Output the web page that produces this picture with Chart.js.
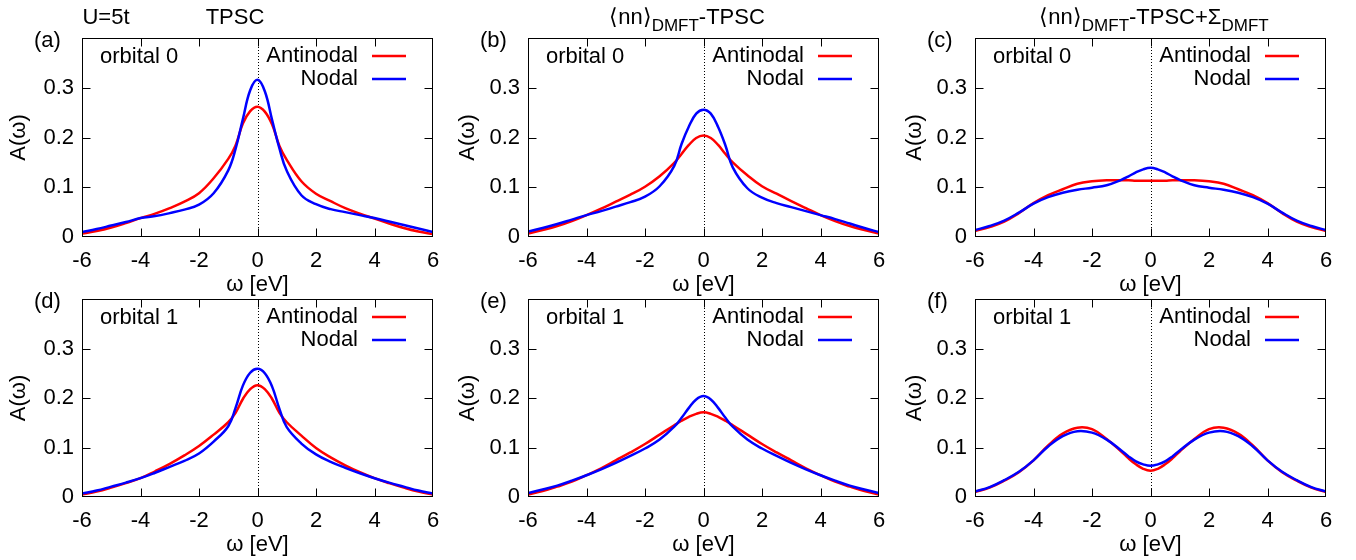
<!DOCTYPE html>
<html>
<head>
<meta charset="utf-8">
<script src="https://cdn.jsdelivr.net/npm/chart.js@4.4.1/dist/chart.umd.min.js"></script>
<style>
  html, body { margin: 0; padding: 0; background: #fff; overflow: hidden; }
  body { position: relative; width: 1356px; height: 560px; }
  canvas { position: absolute; }
</style>
</head>
<body>
<canvas id="pa"></canvas>
<canvas id="pb"></canvas>
<canvas id="pc"></canvas>
<canvas id="pd"></canvas>
<canvas id="pe"></canvas>
<canvas id="pf"></canvas>
<script>
// --- Data ---
const omega = [-6, -5.5, -5, -4.5, -4, -3.5, -3, -2.5, -2, -1.5, -1, -0.75, -0.5, -0.25, 0,
               0.25, 0.5, 0.75, 1, 1.5, 2, 2.5, 3, 3.5, 4, 4.5, 5, 5.5, 6];
const xTicks = [-6, -4, -2, 0, 2, 4, 6];
const yTicks = [0, 0.1, 0.2, 0.3];

// (a) TPSC, orbital 0
const antinodalA = [0.007, 0.012, 0.019, 0.028, 0.038, 0.047, 0.058, 0.071, 0.088, 0.118, 0.157, 0.184, 0.228, 0.253, 0.262,
                    0.252, 0.226, 0.183, 0.155, 0.112, 0.087, 0.072, 0.058, 0.047, 0.037, 0.027, 0.018, 0.011, 0.006];
const nodalA = [0.010, 0.016, 0.023, 0.030, 0.038, 0.042, 0.048, 0.055, 0.065, 0.088, 0.134, 0.177, 0.237, 0.295, 0.316,
                0.293, 0.235, 0.178, 0.133, 0.084, 0.066, 0.056, 0.050, 0.044, 0.038, 0.031, 0.024, 0.017, 0.010];
// (b) <nn>DMFT-TPSC, orbital 0
const antinodalB = [0.007, 0.014, 0.022, 0.032, 0.044, 0.057, 0.071, 0.085, 0.101, 0.122, 0.149, 0.167, 0.185, 0.199, 0.204,
                    0.199, 0.185, 0.167, 0.150, 0.124, 0.102, 0.087, 0.072, 0.058, 0.044, 0.032, 0.022, 0.014, 0.007];
const nodalB = [0.011, 0.018, 0.026, 0.035, 0.044, 0.052, 0.061, 0.070, 0.081, 0.102, 0.143, 0.187, 0.222, 0.248, 0.256,
                0.248, 0.221, 0.184, 0.140, 0.098, 0.079, 0.068, 0.060, 0.052, 0.044, 0.036, 0.027, 0.018, 0.010];
// (c) <nn>DMFT-TPSC+Sigma_DMFT, orbital 0
const antinodalC = [0.012, 0.020, 0.031, 0.048, 0.068, 0.084, 0.096, 0.107, 0.112, 0.114, 0.114, 0.114, 0.113, 0.113, 0.113,
                    0.113, 0.113, 0.114, 0.114, 0.114, 0.112, 0.107, 0.096, 0.084, 0.068, 0.048, 0.031, 0.020, 0.012];
const nodalC = [0.014, 0.022, 0.033, 0.049, 0.067, 0.080, 0.089, 0.095, 0.099, 0.104, 0.115, 0.122, 0.130, 0.136, 0.139,
                0.136, 0.130, 0.122, 0.115, 0.104, 0.099, 0.095, 0.089, 0.080, 0.067, 0.049, 0.033, 0.022, 0.014];
// (d) TPSC, orbital 1
const antinodalD = [0.005, 0.011, 0.019, 0.028, 0.038, 0.052, 0.067, 0.084, 0.103, 0.126, 0.151, 0.170, 0.198, 0.218, 0.226,
                    0.218, 0.198, 0.170, 0.151, 0.124, 0.099, 0.080, 0.064, 0.050, 0.038, 0.028, 0.019, 0.011, 0.005];
const nodalD = [0.007, 0.013, 0.021, 0.029, 0.038, 0.049, 0.061, 0.073, 0.088, 0.112, 0.143, 0.180, 0.225, 0.251, 0.259,
                0.250, 0.223, 0.178, 0.141, 0.108, 0.086, 0.071, 0.059, 0.048, 0.038, 0.029, 0.021, 0.013, 0.007];
// (e) <nn>DMFT-TPSC, orbital 1
const antinodalE = [0.005, 0.012, 0.021, 0.031, 0.044, 0.058, 0.074, 0.090, 0.107, 0.126, 0.145, 0.154, 0.162, 0.168, 0.171,
                    0.168, 0.162, 0.154, 0.145, 0.126, 0.107, 0.090, 0.074, 0.058, 0.044, 0.031, 0.021, 0.012, 0.005];
const nodalE = [0.008, 0.015, 0.023, 0.033, 0.044, 0.056, 0.069, 0.083, 0.098, 0.116, 0.142, 0.160, 0.180, 0.197, 0.204,
                0.197, 0.180, 0.160, 0.142, 0.116, 0.098, 0.083, 0.069, 0.056, 0.044, 0.033, 0.023, 0.015, 0.008];
// (f) <nn>DMFT-TPSC+Sigma_DMFT, orbital 1
const antinodalF = [0.010, 0.019, 0.033, 0.050, 0.074, 0.104, 0.128, 0.140, 0.137, 0.117, 0.092, 0.078, 0.066, 0.057, 0.053,
                    0.057, 0.066, 0.078, 0.092, 0.117, 0.137, 0.140, 0.128, 0.104, 0.074, 0.050, 0.033, 0.019, 0.010];
const nodalF = [0.011, 0.020, 0.034, 0.051, 0.074, 0.102, 0.123, 0.133, 0.130, 0.116, 0.094, 0.082, 0.072, 0.066, 0.063,
                0.066, 0.072, 0.082, 0.094, 0.116, 0.130, 0.133, 0.123, 0.102, 0.074, 0.051, 0.034, 0.020, 0.011];

const FONT = '"Liberation Sans", Arial, Helvetica, sans-serif';
const RED = '#ff0000';
const BLUE = '#0000ff';

const titleNN = [['⟨nn⟩'], ['DMFT', true], ['-TPSC']];
const titleNNS = [['⟨nn⟩'], ['DMFT', true], ['-TPSC+Σ'], ['DMFT', true]];

// layout of the six panels (pixel boxes of the plot areas)
const panels = [
  { id: 'pa', rowTop: 0,   left: 82,  right: 433,  top: 38,  yW: 80, label: '(a)', orbital: 'orbital 0', an: antinodalA, no: nodalA,
    titles: [{ cx: 24, parts: [['U=5t']] }, { cx: 153, parts: [['TPSC']] }] },
  { id: 'pb', rowTop: 0,   left: 528, right: 879,  top: 38,  yW: 77, label: '(b)', orbital: 'orbital 0', an: antinodalB, no: nodalB,
    titles: [{ cx: 159, parts: titleNN }] },
  { id: 'pc', rowTop: 0,   left: 975, right: 1326, top: 38,  yW: 77, label: '(c)', orbital: 'orbital 0', an: antinodalC, no: nodalC,
    titles: [{ cx: 179, parts: titleNNS }] },
  { id: 'pd', rowTop: 280, left: 82,  right: 433,  top: 299, yW: 80, label: '(d)', orbital: 'orbital 1', an: antinodalD, no: nodalD, titles: [] },
  { id: 'pe', rowTop: 280, left: 528, right: 879,  top: 299, yW: 77, label: '(e)', orbital: 'orbital 1', an: antinodalE, no: nodalE, titles: [] },
  { id: 'pf', rowTop: 280, left: 975, right: 1326, top: 299, yW: 77, label: '(f)', orbital: 'orbital 1', an: antinodalF, no: nodalF, titles: [] },
];

// gnuplot-like frame: box, inward mirrored ticks, dotted zero line, key and labels
const framePlugin = {
  id: 'frame',
  beforeDatasetsDraw(chart) {
    const { ctx, chartArea: a, scales: { x } } = chart;
    const x0 = Math.round(x.getPixelForValue(0)) + 0.5;
    ctx.save();
    ctx.strokeStyle = '#000';
    ctx.lineWidth = 1;
    ctx.setLineDash([1, 2]);
    ctx.beginPath();
    ctx.moveTo(x0, a.top);
    ctx.lineTo(x0, a.bottom);
    ctx.stroke();
    ctx.restore();
  },
  afterDraw(chart, args, opts) {
    const { ctx, chartArea: a, scales: { x, y } } = chart;
    const L = Math.round(a.left) + 0.5, R = Math.round(a.right) - 0.5;
    const T = Math.round(a.top) + 0.5, B = Math.round(a.bottom) - 0.5;
    ctx.save();
    ctx.strokeStyle = '#000';
    ctx.lineWidth = 1;
    ctx.strokeRect(L, T, R - L, B - T);
    // ticks
    ctx.beginPath();
    xTicks.forEach(v => {
      const px = Math.round(x.getPixelForValue(v)) + 0.5;
      if (px <= L + 1 || px >= R - 1) return;
      ctx.moveTo(px, B); ctx.lineTo(px, B - 8);
      ctx.moveTo(px, T); ctx.lineTo(px, T + 8);
    });
    yTicks.forEach(v => {
      const py = Math.round(y.getPixelForValue(v)) + 0.5;
      if (py >= B - 1 || py <= T + 1) return;
      ctx.moveTo(L, py); ctx.lineTo(L + 8, py);
      ctx.moveTo(R, py); ctx.lineTo(R - 8, py);
    });
    ctx.stroke();

    // key
    ctx.fillStyle = '#000';
    ctx.font = '22px ' + FONT;
    ctx.textBaseline = 'middle';
    ctx.textAlign = 'right';
    chart.data.datasets.forEach((ds, i) => {
      const yy = a.top + 18 + i * 23;
      ctx.fillText(ds.label, a.right - 75, yy);
      ctx.strokeStyle = ds.borderColor;
      ctx.lineWidth = 2.5;
      ctx.beginPath();
      ctx.moveTo(a.right - 61, yy);
      ctx.lineTo(a.right - 27, yy);
      ctx.stroke();
    });
    ctx.textAlign = 'left';
    ctx.fillText(opts.orbital, a.left + 18, a.top + 19);

    // panel label
    ctx.textBaseline = 'alphabetic';
    ctx.fillText(opts.label, a.left - 48, a.top + 9);

    // titles with subscripts
    opts.titles.forEach(t => {
      const w = t.parts.reduce((s, p) => {
        ctx.font = (p[1] ? '17px ' : '22px ') + FONT;
        return s + ctx.measureText(p[0]).width;
      }, 0);
      let cx = a.left + t.cx - w / 2;
      t.parts.forEach(p => {
        ctx.font = (p[1] ? '17px ' : '22px ') + FONT;
        ctx.fillText(p[0], cx, p[1] ? 31 : 24);
        cx += ctx.measureText(p[0]).width;
      });
    });
    ctx.restore();
  }
};

panels.forEach(p => {
  const canvas = document.getElementById(p.id);
  const cLeft = p.left - p.yW - 2;
  const cHeight = p.rowTop === 0 ? 302 : 282;
  canvas.width = p.right - cLeft + 20;
  canvas.height = cHeight;
  canvas.style.left = cLeft + 'px';
  canvas.style.top = p.rowTop + 'px';

  new Chart(canvas, {
    type: 'line',
    data: {
      labels: omega,
      datasets: [{
        label: 'Antinodal',
        data: omega.map((w, i) => ({ x: w, y: p.an[i] })),
        borderColor: RED,
        borderWidth: 2.5,
        pointRadius: 0,
        fill: false,
        tension: 0.4,
        order: 2,
      }, {
        label: 'Nodal',
        data: omega.map((w, i) => ({ x: w, y: p.no[i] })),
        borderColor: BLUE,
        borderWidth: 2.5,
        pointRadius: 0,
        fill: false,
        tension: 0.4,
        order: 1,
      }]
    },
    options: {
      responsive: false,
      animation: false,
      devicePixelRatio: 1,
      layout: { padding: { left: 2, right: 20, top: p.top - p.rowTop, bottom: 0 } },
      plugins: {
        legend: { display: false },
        tooltip: { enabled: false },
        frame: { label: p.label, orbital: p.orbital, titles: p.titles },
      },
      scales: {
        x: {
          type: 'linear',
          min: -6,
          max: 6,
          afterBuildTicks: s => { s.ticks = xTicks.map(v => ({ value: v })); },
          afterFit: s => { s.height = 65; s.paddingLeft = 0; s.paddingRight = 0; },
          grid: { display: false, drawTicks: false },
          border: { display: false },
          ticks: { color: '#000', font: { family: FONT, size: 22 }, padding: 11, maxRotation: 0, autoSkip: false },
          title: { display: true, text: 'ω [eV]', color: '#000', font: { family: FONT, size: 22 }, padding: { top: 4, bottom: 4 } },
        },
        y: {
          min: 0,
          max: 0.4,
          afterBuildTicks: s => { s.ticks = yTicks.map(v => ({ value: v })); },
          afterFit: s => { s.width = p.yW; s.paddingTop = 0; s.paddingBottom = 0; },
          grid: { display: false, drawTicks: false },
          border: { display: false },
          ticks: {
            color: '#000',
            font: { family: FONT, size: 22 },
            padding: 8,
            callback: v => (v === 0 ? '0' : v.toFixed(1)),
          },
          title: { display: true, text: 'A(ω)', color: '#000', font: { family: FONT, size: 22 }, padding: { top: 4, bottom: 4 } },
        }
      }
    },
    plugins: [framePlugin]
  });
});
</script>
</body>
</html>
